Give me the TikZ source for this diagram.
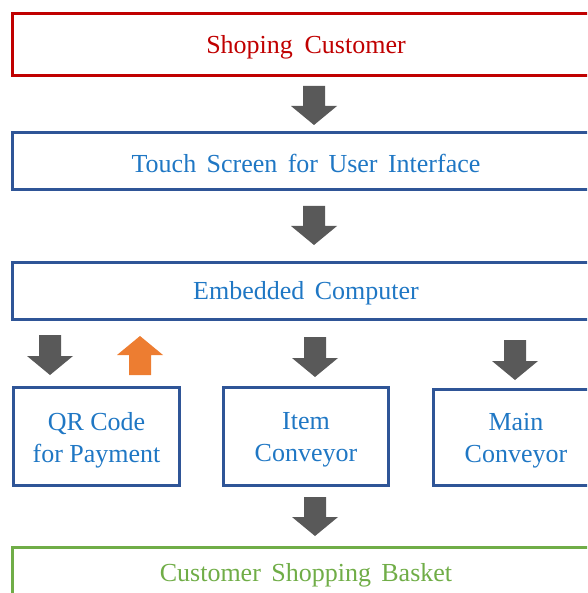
\documentclass[tikz,border=0pt]{standalone}
\usepackage{fontspec}
\setmainfont{Liberation Serif}
\definecolor{cred}{HTML}{C00000}
\definecolor{cblueline}{HTML}{2F5597}
\definecolor{cbluetext}{HTML}{1F77C4}
\definecolor{cgreen}{HTML}{70AD47}
\definecolor{cgray}{HTML}{595959}
\definecolor{corange}{HTML}{ED7D31}
\newcommand{\downarrowblock}[4]{% x, top, bottom, colour
  \fill[#4] (#1-11,#2) -- (#1+11,#2) -- (#1+11,#3-19) -- (#1+23,#3-19) -- (#1,#3) -- (#1-23,#3-19) -- (#1-11,#3-19) -- cycle;}
\newcommand{\uparrowblock}[4]{% x, top(apex), bottom, colour
  \fill[#4] (#1,#2) -- (#1+23,#2+19) -- (#1+11,#2+19) -- (#1+11,#3) -- (#1-11,#3) -- (#1-11,#2+19) -- (#1-23,#2+19) -- cycle;}
\tikzset{
  boxbase/.style={draw, line width=3pt, inner sep=0pt, align=center,
    font=\fontsize{26}{32}\selectfont},
  redbox/.style={boxbase, draw=cred, text=cred},
  bluebox/.style={boxbase, draw=cblueline, text=cbluetext},
  greenbox/.style={boxbase, draw=cgreen, text=cgreen},
  lbl/.style={inner sep=0pt, align=center, font=\fontsize{26}{32}\selectfont},
}
\begin{document}
\begin{tikzpicture}[x=1pt,y=-1pt]
\useasboundingbox (0,0) rectangle (587,593);
\clip (0,0) rectangle (587,593);
% full-width boxes (extend beyond the right edge)
\draw[redbox] (12,13.5) rectangle (600,75.5);
\node[lbl, text=cred] (cust) at (306,47) {Shoping\hspace{0.2em} Customer};
\draw[bluebox] (12,132.5) rectangle (600,189.5);
\node[lbl, text=cbluetext] (touch) at (306,163.5) {Touch\hspace{0.15em} Screen\hspace{0.15em} for\hspace{0.15em} User\hspace{0.15em} Interface};
\draw[bluebox] (12,262.5) rectangle (600,319.5);
\node[lbl, text=cbluetext] (emb) at (306,293.5) {Embedded\hspace{0.15em} Computer};
% small boxes
\draw[bluebox] (13.5,387.5) rectangle (179.5,485.5);
\node[lbl, text=cbluetext] (qr) at (96.5,440) {QR Code\\for Payment};
\draw[bluebox] (223.5,387.5) rectangle (388.5,485.5);
\node[lbl, text=cbluetext] (item) at (306,440) {Item\\Conveyor};
\draw[bluebox] (433.5,389.5) rectangle (598.5,485.5);
\node[lbl, text=cbluetext] (main) at (516,440.5) {Main\\Conveyor};
% bottom box
\draw[greenbox] (12,547.5) rectangle (600,610);
\node[lbl, text=cgreen] (basket) at (306,575) {Customer\hspace{0.15em} Shopping\hspace{0.15em} Basket};
% block arrows
\downarrowblock{314}{86}{125}{cgray}
\downarrowblock{314}{206}{245}{cgray}
\downarrowblock{50}{335}{375}{cgray}
\uparrowblock{140}{336}{375}{corange}
\downarrowblock{315}{337}{377}{cgray}
\downarrowblock{515}{340}{380}{cgray}
\downarrowblock{315}{497}{536}{cgray}
\end{tikzpicture}
\end{document}
